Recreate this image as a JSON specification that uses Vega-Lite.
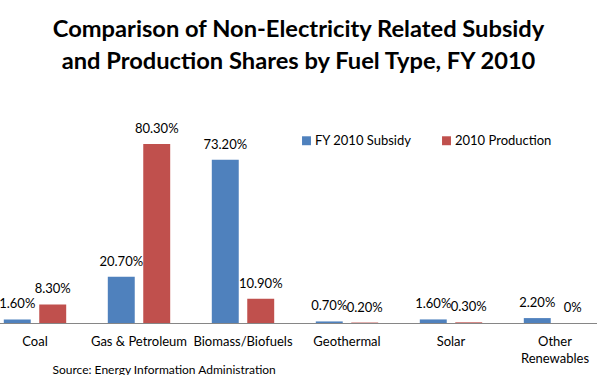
{
  "$schema": "https://vega.github.io/schema/vega-lite/v6.json",
  "autosize": "none",
  "width": 597,
  "height": 223,
  "padding": {"left": 0, "top": 100, "right": 0, "bottom": 52},
  "background": "white",
  "title": {
    "text": ["Comparison of Non-Electricity Related Subsidy", "and Production Shares by Fuel Type, FY 2010"],
    "font": "Lato",
    "fontSize": 23.7,
    "fontWeight": "bold",
    "color": "black",
    "lineHeight": 32,
    "anchor": "middle",
    "offset": 26
  },
  "config": {
    "view": {"stroke": null},
    "font": "Lato"
  },
  "data": {
    "values": [
      {"fuel": "Coal", "series": "FY 2010 Subsidy", "value": 1.6},
      {"fuel": "Coal", "series": "2010 Production", "value": 8.3},
      {"fuel": "Gas & Petroleum", "series": "FY 2010 Subsidy", "value": 20.7},
      {"fuel": "Gas & Petroleum", "series": "2010 Production", "value": 80.3},
      {"fuel": "Biomass/Biofuels", "series": "FY 2010 Subsidy", "value": 73.2},
      {"fuel": "Biomass/Biofuels", "series": "2010 Production", "value": 10.9},
      {"fuel": "Geothermal", "series": "FY 2010 Subsidy", "value": 0.7},
      {"fuel": "Geothermal", "series": "2010 Production", "value": 0.2},
      {"fuel": "Solar", "series": "FY 2010 Subsidy", "value": 1.6},
      {"fuel": "Solar", "series": "2010 Production", "value": 0.3},
      {"fuel": "Other Renewables", "series": "FY 2010 Subsidy", "value": 2.2},
      {"fuel": "Other Renewables", "series": "2010 Production", "value": 0}
    ]
  },
  "transform": [
    {"calculate": "datum.value === 0 ? '0%' : format(datum.value, '.2f') + '%'", "as": "label"}
  ],
  "encoding": {
    "x": {
      "field": "fuel",
      "type": "nominal",
      "sort": null,
      "scale": {"range": [-17, 607], "paddingInner": 0.4, "paddingOuter": 0.2},
      "axis": {
        "title": "Source: Energy Information Administration",
        "titleFont": "Lato",
        "titleFontSize": 12,
        "titleFontWeight": "normal",
        "titleColor": "black",
        "titleAnchor": "start",
        "titleAlign": "left",
        "titleX": 52,
        "titleY": 50,
        "titleBaseline": "alphabetic",
        "labelAngle": 0,
        "labelFont": "Lato",
        "labelFontSize": 13,
        "labelColor": "black",
        "labelPadding": 12,
        "labelLineHeight": 17,
        "labelExpr": "datum.label == 'Other Renewables' ? ['Other', 'Renewables'] : datum.label",
        "ticks": false,
        "domainColor": "#868686",
        "labelLimit": 200
      }
    },
    "xOffset": {
      "field": "series",
      "type": "nominal",
      "sort": ["FY 2010 Subsidy", "2010 Production"],
      "scale": {"paddingInner": 0.24, "paddingOuter": 0}
    },
    "y": {
      "field": "value",
      "type": "quantitative",
      "scale": {"domain": [0, 100]},
      "axis": null
    }
  },
  "layer": [
    {
      "mark": {"type": "bar"},
      "encoding": {
        "color": {
          "field": "series",
          "type": "nominal",
          "sort": ["FY 2010 Subsidy", "2010 Production"],
          "scale": {"domain": ["FY 2010 Subsidy", "2010 Production"], "range": ["#4F81BD", "#C0504D"]},
          "legend": {
            "title": null,
            "orient": "none",
            "direction": "horizontal",
            "legendX": 300,
            "legendY": 34,
            "symbolType": "square",
            "symbolSize": 80,
            "symbolStrokeWidth": 0,
            "labelFont": "Lato",
            "labelFontSize": 13,
            "labelColor": "black",
            "columnPadding": 28,
            "labelOffset": 2
          }
        }
      }
    },
    {
      "mark": {"type": "text", "baseline": "bottom", "dy": -8, "font": "Lato", "fontSize": 13, "color": "black"},
      "encoding": {
        "text": {"field": "label"}
      }
    }
  ]
}
